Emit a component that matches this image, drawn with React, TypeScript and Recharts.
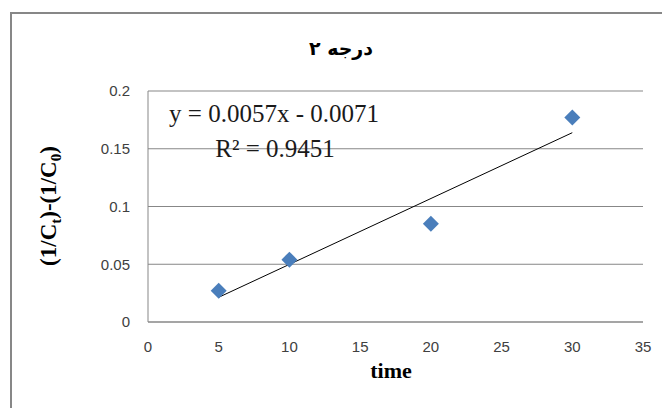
import React from 'react';
import { ScatterChart, Scatter, XAxis, YAxis, CartesianGrid } from 'recharts';

// measured points
const times = [5, 10, 20, 30];
const invConc = [0.027, 0.054, 0.085, 0.177];

// axis ticks
const xTicks = [0, 5, 10, 15, 20, 25, 30, 35];
const yTicks = [0, 0.05, 0.1, 0.15, 0.2];

// linear trendline as printed on the chart
const trendSlope = 0.0057;
const trendIntercept = -0.0071;
const trendRange = [5, 30];

const points = times.map((t, i) => ({ x: t, y: invConc[i] }));
const trend = trendRange.map((t) => ({ x: t, y: trendSlope * t + trendIntercept }));

const GRAY = '#878787';
const TICK = { fontSize: 15, fill: '#404040', fontFamily: '"Liberation Sans", Arial, sans-serif' };

function Diamond(props: any) {
  const { cx, cy } = props;
  const r = 8;
  return (
    <polygon
      points={`${cx},${cy - r} ${cx + r},${cy} ${cx},${cy + r} ${cx - r},${cy}`}
      fill="#4a7ebb"
    />
  );
}

function YLabel() {
  const x = 56;
  const y = 206;
  return (
    <text
      x={x}
      y={y}
      transform={`rotate(-90, ${x}, ${y})`}
      textAnchor="middle"
      fontFamily='"Liberation Serif", "Times New Roman", serif'
      fontWeight="bold"
      fontSize={23}
      fill="#000"
    >
      (1/C<tspan dy={5} fontSize={15}>t</tspan>
      <tspan dy={-5}>)-(1/C</tspan>
      <tspan dy={5} fontSize={15}>0</tspan>
      <tspan dy={-5}>)</tspan>
    </text>
  );
}

function XLabel() {
  return (
    <text
      x={391}
      y={378}
      textAnchor="middle"
      fontFamily='"Liberation Serif", "Times New Roman", serif'
      fontWeight="bold"
      fontSize={22}
      fill="#000"
    >
      time
    </text>
  );
}

export default function App() {
  return (
    <div
      style={{
        position: 'absolute',
        left: 0,
        top: 0,
        width: 662,
        height: 408,
        overflow: 'hidden',
        background: '#fff',
      }}
    >
      <div
        style={{
          position: 'absolute',
          left: 10,
          top: 12,
          width: 700,
          height: 450,
          borderTop: `2px solid ${GRAY}`,
          borderLeft: `2px solid ${GRAY}`,
        }}
      />
      <ScatterChart
        width={662}
        height={408}
        margin={{ top: 91, right: 19, bottom: 26, left: 0 }}
        style={{ position: 'absolute', left: 0, top: 0 }}
      >
        <CartesianGrid vertical={false} stroke={GRAY} strokeWidth={1} />
        <XAxis
          type="number"
          dataKey="x"
          domain={[0, 35]}
          ticks={xTicks}
          height={60}
          tickLine={false}
          tickSize={0}
          tickMargin={19}
          axisLine={{ stroke: GRAY }}
          tick={TICK}
          label={{ content: XLabel }}
        />
        <YAxis
          type="number"
          dataKey="y"
          domain={[0, 0.2]}
          ticks={yTicks}
          width={148}
          tickLine={false}
          tickSize={0}
          tickMargin={18}
          axisLine={{ stroke: GRAY }}
          tick={TICK}
          label={{ content: YLabel }}
        />
        <Scatter
          data={trend}
          line={{ stroke: '#000', strokeWidth: 1 }}
          shape={() => null}
          isAnimationActive={false}
        />
        <Scatter data={points} shape={Diamond} isAnimationActive={false} />
      </ScatterChart>
      <svg
        width={662}
        height={408}
        style={{ position: 'absolute', left: 0, top: 0, pointerEvents: 'none' }}
      >
        <text
          x={341}
          y={55}
          textAnchor="middle"
          fontFamily='"DejaVu Sans", sans-serif'
          fontWeight="bold"
          fontSize={19}
          fill="#000"
        >
          درجه ۲
        </text>
        <g fontFamily='"Liberation Serif", "Times New Roman", serif' fontSize={25} fill="#1a1a1a">
          <text x={274} y={122} textAnchor="middle">
            y = 0.0057x - 0.0071
          </text>
          <text x={275} y={157} textAnchor="middle">
            R² = 0.9451
          </text>
        </g>
      </svg>
    </div>
  );
}
